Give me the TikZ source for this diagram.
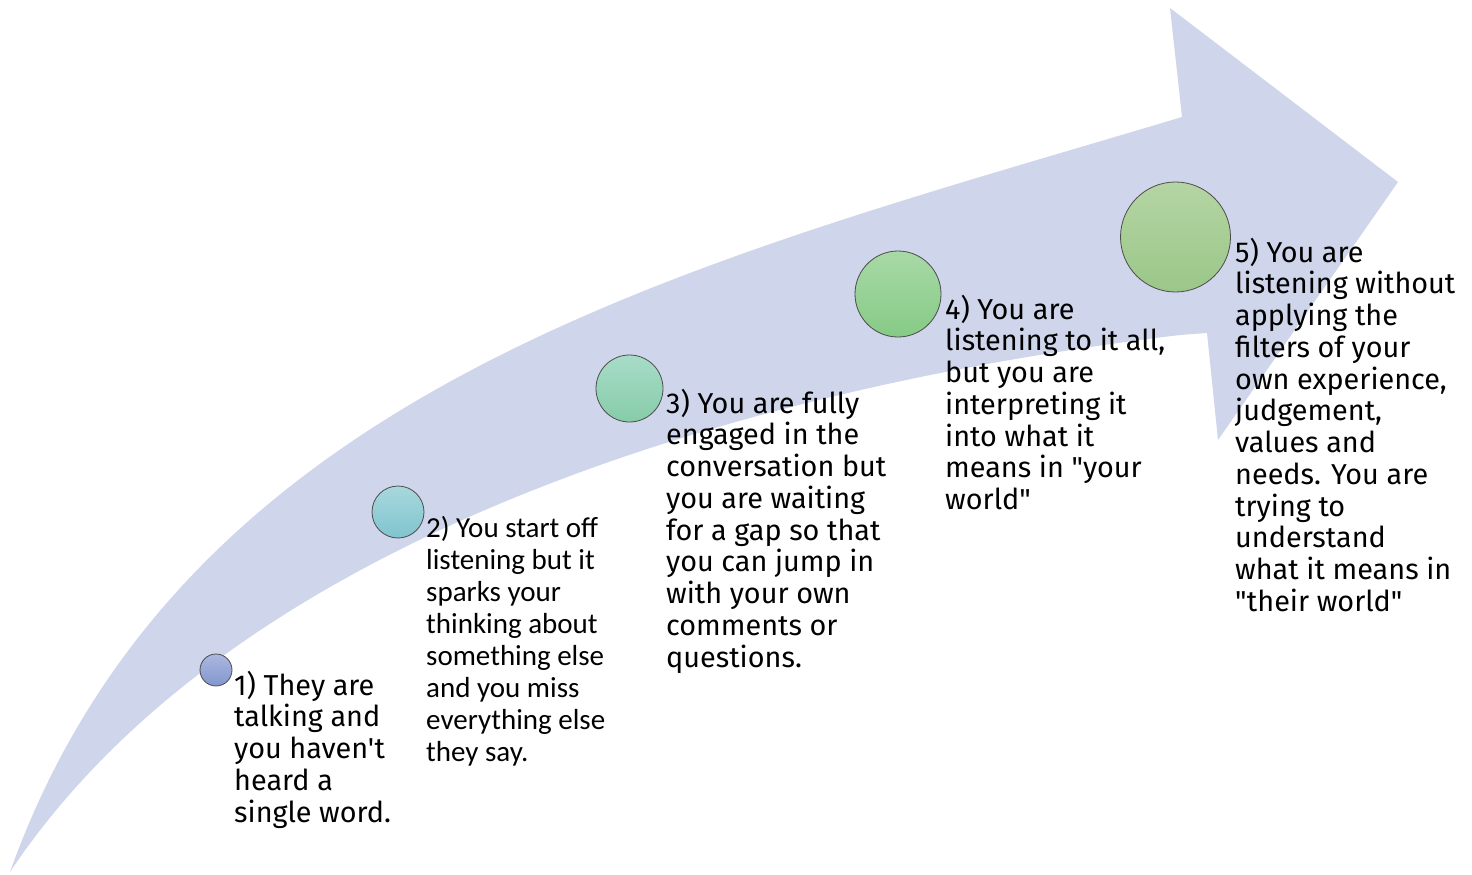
\documentclass[tikz,border=0pt]{standalone}
\usepackage{fontspec}
\newfontfamily\dinfont[Ligatures=TeXOff]{Fira Sans}
\newfontfamily\calfont[Ligatures=TeXOff]{Carlito}
\begin{document}
\begin{tikzpicture}[x=1pt,y=-1pt,
  stepdot/.style={circle, draw=black!70, line width=0.8pt, inner sep=0pt,
    minimum size=#1},
  steptext/.style={anchor=base west, inner sep=0pt,
    font=\dinfont\fontsize{28.8}{31.75}\selectfont},
  calitext/.style={anchor=base west, inner sep=0pt,
    font=\calfont\fontsize{29}{32.1}\selectfont}]
\definecolor{arrowfill}{HTML}{CFD5EA}
\useasboundingbox (0,0) rectangle (1472,875);

% the rising curved arrow
\coordinate (tail) at (10,872);
\coordinate (upper) at (1182,117);
\coordinate (lower) at (1180,335);
\fill[arrowfill]
  (tail) .. controls (185,382) and (702,261) .. (upper)
  -- (1170,8) -- (1398,182) -- (1218,440) -- (1207,333) -- (lower)
  .. controls (730,389) and (230,542) .. (tail)
  -- cycle;

% the five markers, growing along the arrow
\node[stepdot=32pt, top color={rgb,255:red,171;green,183;blue,223},
  bottom color={rgb,255:red,130;green,151;blue,206}] (c1) at (216,670) {};
\node[stepdot=52pt, top color={rgb,255:red,168;green,216;blue,221},
  bottom color={rgb,255:red,128;green,196;blue,206}] (c2) at (398,512) {};
\node[stepdot=67pt, top color={rgb,255:red,168;green,220;blue,200},
  bottom color={rgb,255:red,134;green,204;blue,168}] (c3) at (629.5,388.5) {};
\node[stepdot=86pt, top color={rgb,255:red,168;green,217;blue,166},
  bottom color={rgb,255:red,134;green,202;blue,134}] (c4) at (898,294) {};
\node[stepdot=110pt, top color={rgb,255:red,180;green,213;blue,164},
  bottom color={rgb,255:red,155;green,199;blue,136}] (c5) at (1175.5,237) {};

% the descriptions
\node[steptext] (t1) at (234,695) {\parbox[t]{300pt}{\raggedright
  1) They are\\talking and\\you haven't\\heard a\\single word.}};
\node[calitext] (t2) at (426,537) {\parbox[t]{300pt}{\raggedright
  2) You start off\\listening but it\\sparks your\\thinking about\\something else\\and you miss\\everything else\\they say.}};
\node[steptext] (t3) at (666,413) {\parbox[t]{300pt}{\raggedright
  3) You are fully\\engaged in the\\conversation but\\you are waiting\\for a gap so that\\you can jump in\\with your own\\comments or\\questions.}};
\node[steptext] (t4) at (945,319) {\parbox[t]{300pt}{\raggedright
  4) You are\\listening to it all,\\but you are\\interpreting it\\into what it\\means in "your\\world"}};
\node[steptext] (t5) at (1235,262) {\parbox[t]{300pt}{\raggedright
  5) You are\\listening without\\applying the\\filters of your\\own experience,\\judgement,\\values and\\needs. You are\\trying to\\understand\\what it means in\\"their world"}};
\end{tikzpicture}
\end{document}
